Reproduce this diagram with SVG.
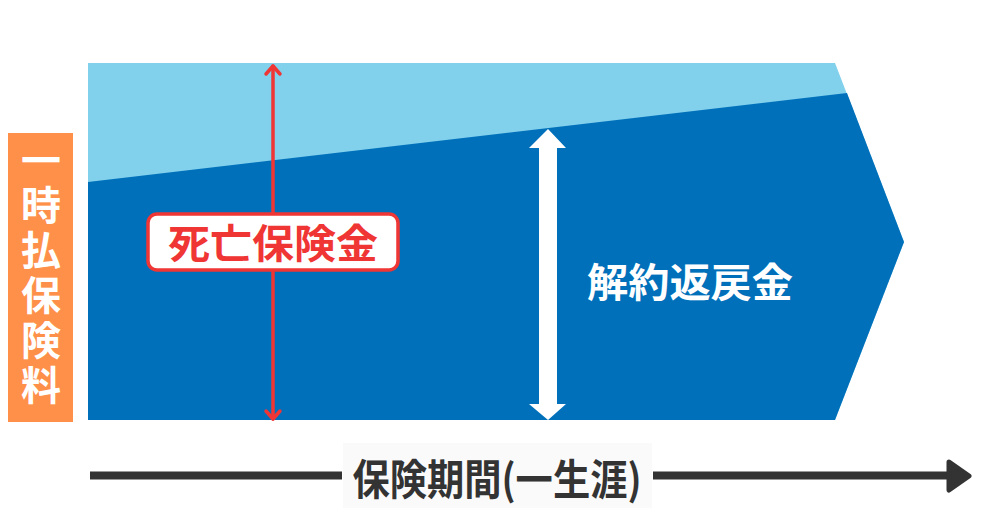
<svg xmlns="http://www.w3.org/2000/svg" width="1000" height="523" viewBox="0 0 1000 523">
<style>
.jp{font-family:"Noto Sans CJK JP","Noto Sans CJK SC",sans-serif;font-weight:700}
.w{fill:#FFFFFF}
.red{fill:none;stroke:#F03535;stroke-width:3.5;stroke-linecap:round;stroke-linejoin:round}
</style>
<rect width="1000" height="523" fill="#FFFFFF"/>
<g id="chart">
<polygon points="88,63 835,63 904,242 835,420 88,420" fill="#81D0EC"/>
<polygon points="88,182 847,93 904,242 835,420 88,420" fill="#0070BA"/>
</g>
<g id="premium">
<rect x="8" y="133" width="65" height="289" fill="#FF904A"/>
<text class="jp w" x="41" y="140" font-size="40" writing-mode="tb" letter-spacing="5">一時払保険料</text>
</g>
<g id="connectors">
<line class="red" x1="273" y1="66" x2="273" y2="419"/>
<path class="red" d="M266,74 L273,66 L280,74"/>
<path class="red" d="M266,411 L273,419 L280,411"/>
<polygon points="548,129 566,148 557,148 557,404 566,404 548,420 529,404 539,404 539,148 529,148" fill="#FFFFFF"/>
<line x1="90" y1="475.5" x2="342" y2="475.5" stroke="#333333" stroke-width="8"/>
<line x1="653" y1="475.5" x2="950" y2="475.5" stroke="#333333" stroke-width="8"/>
<path d="M949,462 L969,476 L949,490 Z" fill="#333333" stroke="#333333" stroke-width="5" stroke-linejoin="round"/>
</g>
<g id="death-benefit">
<rect x="148" y="214" width="250" height="56" rx="9" fill="#FFFFFF" stroke="#F03535" stroke-width="3.5"/>
<text class="jp" x="273" y="258" font-size="40" fill="#F03535" text-anchor="middle" textLength="210" lengthAdjust="spacingAndGlyphs">死亡保険金</text>
</g>
<g id="surrender">
<text class="jp w" x="690" y="297" font-size="40" text-anchor="middle" textLength="206" lengthAdjust="spacingAndGlyphs">解約返戻金</text>
</g>
<g id="period">
<rect x="343" y="443" width="309" height="65" fill="#FAFAFA"/>
<text class="jp" x="497" y="495" font-size="42" fill="#333333" text-anchor="middle" textLength="289" lengthAdjust="spacingAndGlyphs">保険期間(一生涯)</text>
</g>
</svg>
